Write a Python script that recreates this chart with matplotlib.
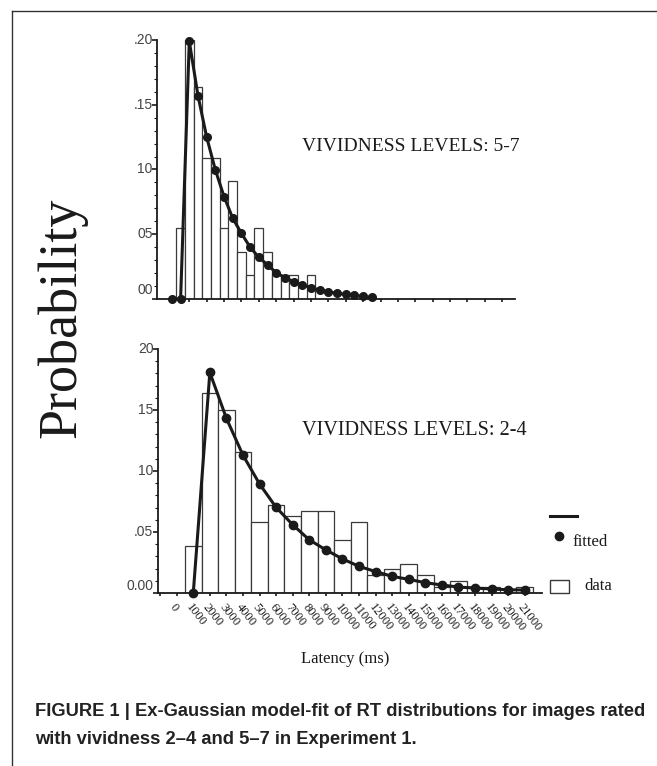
"""
Ex-Gaussian fit of RT distributions (vividness 5-7 and 2-4), rebuilt with matplotlib.
"""
import matplotlib
matplotlib.use("Agg")
import matplotlib.pyplot as plt
from matplotlib.lines import Line2D
from matplotlib.patches import Rectangle
from matplotlib.ticker import MultipleLocator

# ── data: vividness 5-7 (500 ms bins) ────────────────────────────────────
hi_bins = [500, 1000, 1500, 2000, 2500, 3000, 3500, 4000,
           4500, 5000, 5500, 6000, 6500, 7000, 7500, 8000]
hi_prob = [0.0545, 0.2000, 0.1636, 0.1091, 0.1091, 0.0545, 0.0909, 0.0364,
           0.0182, 0.0545, 0.0364, 0.0182, 0.0182, 0.0182, 0.0, 0.0182]
hi_fit_x = [0, 500, 1000, 1500, 2000, 2500, 3000, 3500, 4000, 4500, 5000, 5500,
            6000, 6500, 7000, 7500, 8000, 8500, 9000, 9500, 10000, 10500, 11000, 11500]
hi_fit_y = [0.0, 0.0, 0.199, 0.157, 0.125, 0.0996, 0.079, 0.0623, 0.0507, 0.0399,
            0.0322, 0.0263, 0.0203, 0.0165, 0.0134, 0.0108, 0.0088, 0.0069,
            0.0055, 0.0044, 0.0035, 0.0027, 0.002, 0.0013]
hi_ytick_vals = [0.0, 0.05, 0.10, 0.15, 0.20]
hi_ytick_text = ["00", "05", "10", ".15", ".20"]

# ── data: vividness 2-4 (1000 ms bins) ───────────────────────────────────
lo_bins = [1000, 2000, 3000, 4000, 5000, 6000, 7000, 8000, 9000, 10000, 11000,
           12000, 13000, 14000, 15000, 16000, 17000, 18000, 19000, 20000, 21000]
lo_prob = [0.0386, 0.1643, 0.1498, 0.1159, 0.0580, 0.0725, 0.0628, 0.0676, 0.0676,
           0.0435, 0.0580, 0.0145, 0.0193, 0.0242, 0.0145, 0.0048, 0.0097, 0.0048,
           0.0048, 0.0, 0.0048]
lo_fit_y = [0.0, 0.1808, 0.1432, 0.113, 0.0894, 0.0702, 0.056, 0.0436, 0.0354,
            0.028, 0.0219, 0.0176, 0.0137, 0.0112, 0.0085, 0.0066, 0.0049,
            0.0041, 0.0033, 0.0027, 0.0025]
lo_xtick_vals = [0, 1000, 2000, 3000, 4000, 5000, 6000, 7000, 8000, 9000, 10000,
                 11000, 12000, 13000, 14000, 15000, 16000, 17000, 18000, 19000,
                 20000, 21000]
lo_xtick_text = [str(v) for v in lo_xtick_vals]
lo_ytick_vals = [0.0, 0.05, 0.10, 0.15, 0.20]
lo_ytick_text = ["0.00", ".05", "10", "15", "20"]

INK = "#1a1a1a"
EDGE = "#3a3a3a"
SERIF = ["Liberation Serif", "DejaVu Serif"]
SANS = ["Liberation Sans", "DejaVu Sans"]

fig = plt.figure(figsize=(6.57, 7.66), dpi=100)
fig.patch.set_facecolor("white")


def style_axes(ax, ytick_vals, ytick_text, zero_shift):
    ax.spines[["top", "right"]].set_visible(False)
    for s in ("left", "bottom"):
        ax.spines[s].set_color(INK)
        ax.spines[s].set_linewidth(1.3)
    ax.set_ylim(0, 0.2)
    ax.set_yticks(ytick_vals)
    ax.set_yticklabels([])
    ax.yaxis.set_minor_locator(MultipleLocator(0.01))
    ax.tick_params(axis="y", which="major", length=3.5, width=1.2, color=INK)
    ax.tick_params(axis="y", which="minor", length=2, width=0.8, color=INK)
    ax.tick_params(axis="x", length=2.5, width=1.2, color=INK)
    for v, t in zip(ytick_vals, ytick_text):
        y = v + zero_shift if v == 0 else v
        ax.text(-0.012, y, t, transform=ax.get_yaxis_transform(), ha="right",
                va="center", fontsize=10, family=SANS, color="#444444")


# ── top panel ─────────────────────────────────────────────────────────────
ax1 = fig.add_axes([0.239, 0.6097, 0.5445, 0.3381])
ax1.bar(hi_bins, hi_prob, width=500, color="white", edgecolor=EDGE, linewidth=0.9, zorder=2)
ax1.plot(hi_fit_x, hi_fit_y, color=INK, linewidth=2.2, marker="o", markersize=5.5,
         zorder=3, clip_on=False)
ax1.set_xlim(-856, 19720)
ax1.set_xticks(range(0, 20000, 1000))
ax1.set_xticklabels([])
style_axes(ax1, hi_ytick_vals, hi_ytick_text, 0.007)

# ── bottom panel ──────────────────────────────────────────────────────────
ax2 = fig.add_axes([0.2405, 0.2258, 0.5845, 0.3185])
ax2.bar(lo_bins, lo_prob, width=1000, color="white", edgecolor=EDGE, linewidth=0.9, zorder=2)
ax2.plot(lo_bins, lo_fit_y, color=INK, linewidth=2.2, marker="o", markersize=6,
         zorder=3, clip_on=False)
ax2.set_xlim(-1128, 22046)
ax2.set_xticks([-1000] + lo_xtick_vals)
ax2.set_xticklabels([""] + lo_xtick_text, rotation=-52, ha="left", va="top",
                    rotation_mode="anchor", fontsize=9, family=SERIF, color=INK)
style_axes(ax2, lo_ytick_vals, lo_ytick_text, 0.0057)

# ── panel captions, axis labels ──────────────────────────────────────────
fig.text(0.4597, 0.8081, "VIVIDNESS LEVELS: 5-7", fontsize=14, family=SERIF,
         color=INK, ha="left", va="center")
fig.text(0.4597, 0.4386, "VIVIDNESS LEVELS: 2-4", fontsize=14.6, family=SERIF,
         color=INK, ha="left", va="center")
fig.text(0.0944, 0.585, "Probability", rotation=90, fontsize=39, family=SERIF,
         color=INK, ha="center", va="center")
fig.text(0.525, 0.1397, "Latency (ms)", fontsize=12, family=SERIF, color=INK,
         ha="center", va="center")

# ── legend ───────────────────────────────────────────────────────────────
fig.add_artist(Line2D([0.837, 0.878], [0.3264, 0.3264], color=INK, linewidth=2.2))
fig.add_artist(Line2D([0.8508], [0.3003], marker="o", markersize=6, color=INK))
fig.text(0.872, 0.2924, "fitted", fontsize=12, family=SERIF, color=INK, va="center")
fig.add_artist(Rectangle((0.837, 0.2258), 0.0289, 0.017, facecolor="white",
                         edgecolor=EDGE, linewidth=1.0))
fig.text(0.889, 0.235, "data", fontsize=12, family=SERIF, color=INK, va="center")

# ── page frame + figure caption ──────────────────────────────────────────
fig.add_artist(Line2D([0.0183, 1.0], [0.9856, 0.9856], color="#333333", linewidth=1.0))
fig.add_artist(Line2D([0.0183, 0.0183], [0.0, 0.9856], color="#333333", linewidth=1.0))
CAP = ["Liberation Sans Narrow", "Liberation Sans", "DejaVu Sans"]
fig.text(0.0533, 0.0718,
         "FIGURE 1 | Ex-Gaussian model-fit of RT distributions for images rated",
         fontsize=13.2, fontweight="bold", family=CAP, color="#222222", va="center")
fig.text(0.0533, 0.034, "with vividness 2\u20134 and 5\u20137 in Experiment 1.",
         fontsize=13.2, fontweight="bold", family=CAP, color="#222222", va="center")

fig.savefig("out.png", dpi=100, facecolor="white")
plt.close(fig)
